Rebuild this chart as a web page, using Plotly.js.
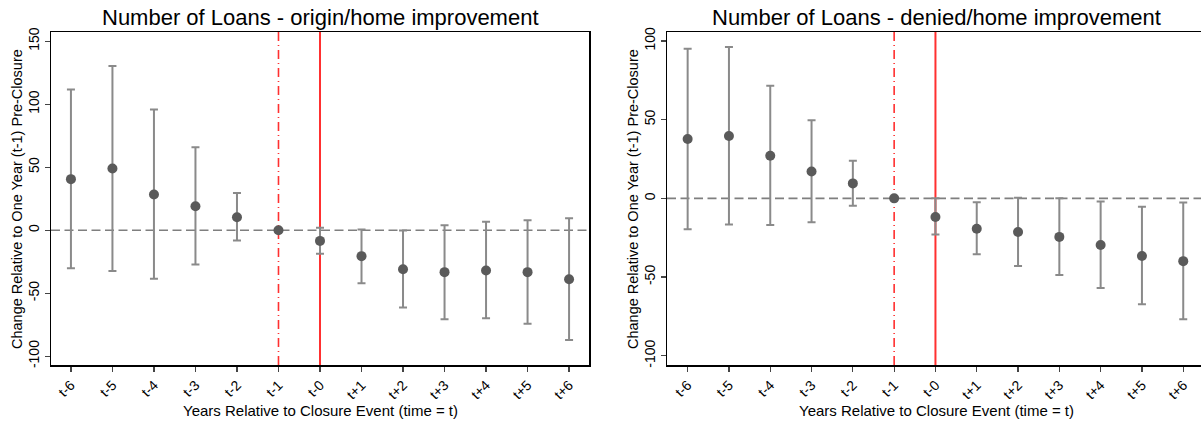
<!DOCTYPE html>
<html>
<head>
<meta charset="utf-8">
<script src="https://cdn.plot.ly/plotly-3.0.1.min.js"></script>
<style>html,body{margin:0;padding:0;background:#fff;}#chart{width:1201px;height:424px;}</style>
</head>
<body>
<div id="chart"></div>
<script>
// ---- data ----
const categories = ["t-6","t-5","t-4","t-3","t-2","t-1","t-0","t+1","t+2","t+3","t+4","t+5","t+6"];

const originEstimate = [40.5, 48.9, 28.3, 19.0, 10.3, 0, -8.5, -20.6, -31.0, -33.3, -32.0, -33.3, -39.0];
const originUpper    = [111.6, 130.3, 95.8, 65.9, 29.6, 0, 1.9, 0.5, -0.3, 4.0, 6.6, 7.8, 9.4];
const originLower    = [-30.2, -32.3, -38.6, -27.2, -8.2, 0, -18.8, -42.1, -61.4, -70.6, -69.8, -74.3, -87.1];

const deniedEstimate = [37.7, 39.6, 27.1, 17.1, 9.5, 0, -11.9, -19.3, -21.4, -24.5, -29.6, -36.6, -39.9];
const deniedUpper    = [95.0, 96.1, 71.5, 49.7, 23.9, 0, 0.0, -2.5, 0.4, 0.0, -2.0, -5.4, -2.7];
const deniedLower    = [-19.7, -16.7, -16.9, -15.2, -4.7, 0, -22.9, -35.6, -43.0, -48.7, -57.0, -67.3, -76.8];

const yTicksLeft  = [-100, -50, 0, 50, 100, 150];
const yTicksRight = [-100, -50, 0, 50, 100];

const titleLeft  = "Number of Loans - origin/home improvement";
const titleRight = "Number of Loans - denied/home improvement";
const xTitle = "Years Relative to Closure Event (time = t)";
const yTitle = "Change Relative to One Year (t-1) Pre-Closure";

// ---- build ----
const FONT = "Liberation Sans, Arial, Helvetica, sans-serif";
function trace(est, up, lo, xa, ya) {
  return {
    type: "scatter", mode: "markers",
    x: categories, y: est, xaxis: xa, yaxis: ya,
    marker: {color: "#5a5a5a", size: 10},
    error_y: {
      type: "data", symmetric: false,
      array: up.map((u, i) => u - est[i]),
      arrayminus: lo.map((l, i) => est[i] - l),
      color: "#8a8a8a", thickness: 2, width: 4
    },
    showlegend: false, hoverinfo: "x+y"
  };
}

const data = [
  trace(originEstimate, originUpper, originLower, "x", "y"),
  trace(deniedEstimate, deniedUpper, deniedLower, "x2", "y2")
];

const yDom = [59/424, 392/424];
const axFont = {family: FONT, size: 14, color: "#000"};

function xaxis(domain, range) {
  return {
    domain: domain, range: range, type: "category",
    showline: true, linecolor: "#000", linewidth: 1.5, mirror: true,
    ticks: "outside", ticklen: 5, tickcolor: "#444", tickwidth: 1.2,
    tickangle: -45, tickfont: axFont, showgrid: false, zeroline: false,
    fixedrange: true
  };
}
function yaxis(anchor, range, ticks, mirror) {
  return {
    domain: yDom, anchor: anchor, range: range,
    tickvals: ticks, ticktext: ticks.map(String),
    showline: true, linecolor: "#000", linewidth: 1.5, mirror: mirror,
    ticks: "outside", ticklen: 5, tickcolor: "#444", tickwidth: 1.2,
    tickangle: -90, tickfont: axFont, showgrid: false, zeroline: false,
    fixedrange: true
  };
}

function vline(xref, yref, cat, dash, width) {
  return {type: "line", xref: xref, yref: yref, x0: cat, x1: cat, y0: 0, y1: 1,
    line: {color: "#ff3030", width: width, dash: dash}, layer: "below"};
}
function hzero(xref, yref) {
  return {type: "line", xref: xref, yref: yref, x0: 0, x1: 1, y0: 0, y1: 0,
    line: {color: "#7f7f7f", width: 1.6, dash: "9px,4.5px"}, layer: "below"};
}

const layout = {
  width: 1201, height: 424,
  margin: {l: 0, r: 0, t: 0, b: 0},
  paper_bgcolor: "#fff", plot_bgcolor: "#fff",
  font: {family: FONT, color: "#000"},
  xaxis: xaxis([51/1201, 589/1201], [-0.48, 12.48]),
  yaxis: yaxis("x", [-107, 157.3], yTicksLeft, true),
  xaxis2: Object.assign(xaxis([667/1201, 1], [-0.5, 12.43]), {anchor: "y2"}),
  yaxis2: yaxis("x2", [-105.9, 105.7], yTicksRight, false),
  shapes: [
    hzero("x domain", "y"),
    vline("x", "y domain", "t-1", "9px,4px,1px,4px", 1.6),
    vline("x", "y domain", "t-0", "solid", 2),
    hzero("x2 domain", "y2"),
    vline("x2", "y2 domain", "t-1", "9px,4px,1px,4px", 1.6),
    vline("x2", "y2 domain", "t-0", "solid", 2)
  ],
  annotations: [
    {text: titleLeft, xref: "paper", yref: "paper", x: 320/1201, y: 1 - 17/424,
     showarrow: false, xanchor: "center", yanchor: "middle", font: {family: FONT, size: 22, color: "#000"}},
    {text: titleRight, xref: "paper", yref: "paper", x: 936/1201, y: 1 - 17/424,
     showarrow: false, xanchor: "center", yanchor: "middle", font: {family: FONT, size: 22, color: "#000"}},
    {text: xTitle, xref: "paper", yref: "paper", x: 320/1201, y: 1 - 410/424,
     showarrow: false, xanchor: "center", yanchor: "middle", font: {family: FONT, size: 15, color: "#000"}},
    {text: xTitle, xref: "paper", yref: "paper", x: 936/1201, y: 1 - 410/424,
     showarrow: false, xanchor: "center", yanchor: "middle", font: {family: FONT, size: 15, color: "#000"}},
    {text: yTitle, xref: "paper", yref: "paper", x: 17/1201, y: 1 - 199/424, textangle: -90,
     showarrow: false, xanchor: "center", yanchor: "middle", font: {family: FONT, size: 14.5, color: "#000"}},
    {text: yTitle, xref: "paper", yref: "paper", x: 633/1201, y: 1 - 199/424, textangle: -90,
     showarrow: false, xanchor: "center", yanchor: "middle", font: {family: FONT, size: 14.5, color: "#000"}}
  ]
};

Plotly.newPlot("chart", data, layout, {displayModeBar: false, staticPlot: true});
</script>
</body>
</html>
